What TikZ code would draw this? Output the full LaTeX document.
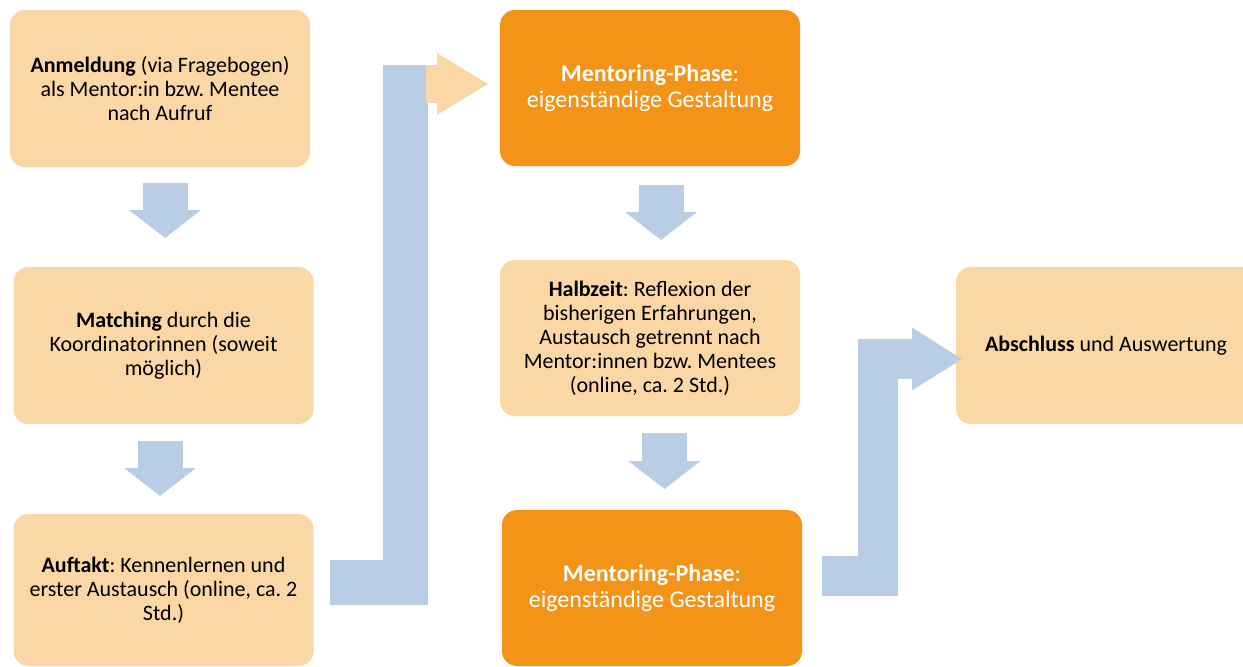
\documentclass[tikz,border=0pt]{standalone}
\usepackage{fontspec}
\setmainfont{Carlito}
\frenchspacing
\usetikzlibrary{arrows.meta}
\definecolor{pcol}{RGB}{250,215,165}
\definecolor{ocol}{RGB}{243,148,25}
\definecolor{bcol}{RGB}{185,205,229}
\tikzset{every picture/.style={x=1pt,y=-1pt}}
\tikzset{stepbox/.style={rounded corners=15pt,minimum width=300pt,minimum height=157pt,inner sep=0pt,align=center}}
\tikzset{light/.style={stepbox,fill=pcol,text=black,font=\fontsize{22}{24}\selectfont}}
\tikzset{dark/.style={stepbox,fill=ocol,text=white,font=\fontsize{24}{26}\selectfont}}
\tikzset{down/.style={bcol,line width=45pt,-{Triangle[length=28pt,width=72pt,line width=0pt]}}}
\tikzset{bent/.style={bcol,line join=miter}}

\begin{document}
\begin{tikzpicture}
\useasboundingbox (0,0) rectangle (1243,667);
\clip (0,0) rectangle (1243,667);

\node [light] (anm) at (160,88.5) {\textbf{Anmeldung} (via Fragebogen)\\als Mentor:in bzw. Mentee\\nach Aufruf};
\node [light] (match) at (163.5,345.5) {\textbf{Matching} durch die\\Koordinatorinnen (soweit\\möglich)};
\node [light,minimum height=152pt] (auftakt) at (163.5,590) {\textbf{Auftakt}: Kennenlernen und\\erster Austausch (online, ca. 2\\Std.)};

\node [dark,minimum height=156pt] (phase1) at (650,88) {\textbf{Mentoring-Phase}:\\eigenständige Gestaltung};
\node [light,minimum height=156pt] (halb) at (650,338) {\textbf{Halbzeit}: Reflexion der\\bisherigen Erfahrungen,\\Austausch getrennt nach\\Mentor:innen bzw. Mentees\\(online, ca. 2 Std.)};
\node [dark,minimum height=156pt] (phase2) at (652,588) {\textbf{Mentoring-Phase}:\\eigenständige Gestaltung};

\node [light] (absch) at (1106,345.5) {\textbf{Abschluss} und Auswertung};

\coordinate (d1a) at (165,183);
\coordinate (d1b) at (165,238);
\coordinate (d2a) at (160,441);
\coordinate (d2b) at (160,496);
\coordinate (d3a) at (661,185);
\coordinate (d3b) at (661,240);
\coordinate (d4a) at (664.5,433);
\coordinate (d4b) at (664.5,489);

\coordinate (k1a) at (330,582);
\coordinate (k1b) at (405,65);
\coordinate (k1c) at (426,84);
\coordinate (k1d) at (488,84);

\coordinate (k2a) at (822,576);
\coordinate (k2b) at (877.5,359);
\coordinate (k2c) at (962,359);

\draw [down] (d1a) -- (d1b);
\draw [down] (d2a) -- (d2b);
\draw [down] (d3a) -- (d3b);
\draw [down] (d4a) -- (d4b);

\draw [bent,line width=45pt] (k1a) -| (k1b);
\draw [pcol,line width=38pt,-{Triangle[length=51pt,width=62pt,line width=0pt]}] (k1c) -- (k1d);

\draw [bent,line width=40pt,-{Triangle[length=50pt,width=63pt,line width=0pt]}] (k2a) -| (k2b) -- (k2c);
\end{tikzpicture}
\end{document}
